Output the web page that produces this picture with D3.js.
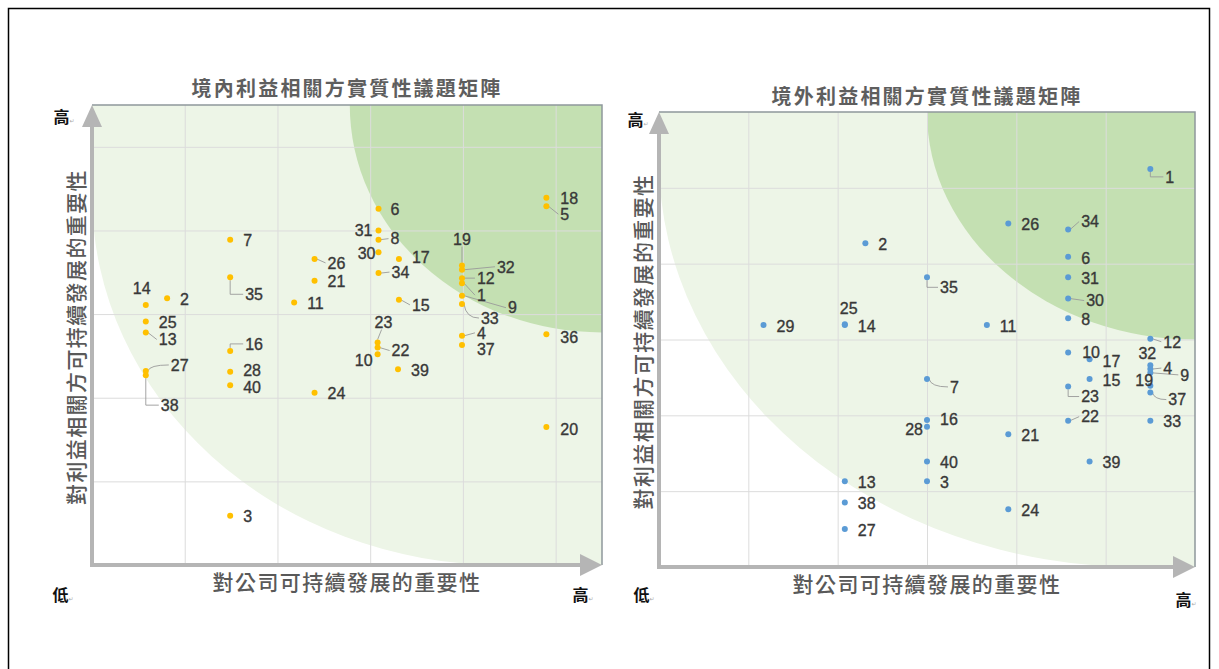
<!DOCTYPE html>
<html><head><meta charset="utf-8">
<script src="https://cdn.jsdelivr.net/npm/d3@7"></script>
<style>body{margin:0;background:#fff}svg{display:block}</style>
</head><body>
<svg id="c" width="1219" height="669"></svg>
<script>
// ---------- DATA ----------
const titleLeft = "境內利益相關方實質性議題矩陣";
const titleRight = "境外利益相關方實質性議題矩陣";
const xAxisTitle = "對公司可持續發展的重要性";
const yAxisTitle = "對利益相關方可持續發展的重要性";
const highLabel = "高", lowLabel = "低";

const leftIds = [1,2,3,4,5,6,7,8,9,10,11,12,13,14,15,16,17,18,19,20,21,22,23,24,25,26,27,28,30,31,32,33,34,35,36,37,38,39,40];
const leftX   = [3.99,0.81,1.49,3.99,4.90,3.09,1.49,3.09,3.99,3.08,2.18,3.99,0.58,0.58,3.31,1.49,3.31,4.90,3.99,4.90,2.40,3.08,3.08,2.40,0.58,2.40,0.58,1.49,3.09,3.09,3.99,3.99,3.09,1.49,4.90,3.99,0.58,3.30,1.49];
const leftY   = [3.37,3.19,0.59,2.74,4.29,4.26,3.89,3.89,3.22,2.52,3.14,3.43,2.78,3.11,3.17,2.56,3.66,4.39,3.58,1.65,3.40,2.60,2.66,2.06,2.91,3.66,2.32,2.31,3.74,4.00,3.53,3.12,3.49,3.44,2.76,2.63,2.27,2.34,2.15];

const rightIds = [1,2,3,4,6,7,8,9,10,11,12,13,14,15,16,17,19,21,22,23,24,25,26,27,28,29,30,31,32,33,34,35,37,38,39,40];
const rightX   = [5.50,2.31,3.00,5.50,4.58,3.00,4.58,5.50,4.58,3.67,5.50,2.08,2.08,4.82,3.00,4.82,5.50,3.91,4.58,4.58,3.91,2.08,3.91,2.08,3.00,1.17,4.58,4.58,5.50,5.50,4.58,3.00,5.50,2.08,4.82,3.00];
const rightY   = [5.25,4.27,1.13,2.61,4.09,2.48,3.28,2.56,2.83,3.19,3.01,1.13,3.19,2.48,1.94,2.74,2.39,1.75,1.93,2.38,0.76,3.20,4.53,0.50,1.85,3.19,3.54,3.82,2.66,1.93,4.45,3.82,2.30,0.85,1.39,1.39];

const leftGrid = [1,2,3,4,5];
const rightGrid = [1,2,3,4,5];

// ---------- LAYOUT (label placement, not data) ----------
const leftLabelLayout = {
  14:[-13,-17],25:[13,1],13:[13,7,'start','s'],27:[25,-6,'start','c'],38:[15,30,'start','L'],
  35:[15,17,'start','L'],16:[15,-7,'start','L'],26:[13,4,'start','s'],28:[13,-2],40:[13,2],
  31:[-6,0,'end'],8:[12,-1,'start','s'],30:[-3,1,'end'],17:[13,-2],34:[13,-1,'start','s'],15:[13,5,'start','s'],
  5:[14,8,'start','s'],19:[0,-26,'middle','v'],32:[35,-3,'start','s'],12:[15,0,'start','s'],1:[15,12,'start','s'],
  9:[46,12,'start','s'],33:[19,14,'start','c'],4:[15,-3,'start','s'],37:[15,4],36:[14,3],
  23:[-3,-20,'start','v'],22:[14,3,'start','s'],10:[-5,6,'end'],20:[14,2],6:[12,1],18:[14,0]
};
const rightLabelLayout = {
  1:[15,8,'start','L'],35:[13,10,'start','L'],25:[-5,-16],34:[13,-8,'start','s'],30:[18,2,'start','s'],
  12:[13,3,'start','s'],10:[14,0],17:[13,2],32:[-3,-12,'middle'],4:[13,-1,'start','s'],9:[30,2,'start','s'],
  19:[-15,-6],37:[18,7,'start','c'],7:[23,8,'start','c'],23:[13,10,'start','L'],22:[13,-4,'start','s'],
  28:[-4,3,'end'],16:[13,-1]
};

// ---------- DRAW ----------
const svg = d3.select("#c");
svg.append("rect").attr("x",8.5).attr("y",8.5).attr("width",1201).attr("height",720)
  .attr("fill","#fff").attr("stroke","#000").attr("stroke-width",1.5);

const CJK = "'Noto Sans CJK TC','Noto Sans CJK SC',sans-serif";
const NUM = "'Liberation Sans',Arial,sans-serif";

function chart(cfg){
  const {id, x0,x1,y0,y1,max, ids, xs, ys, grid, layout, color, lightC, darkR, title, titleY} = cfg;
  const x = d3.scaleLinear([0,max],[x0,x1]);
  const y = d3.scaleLinear([0,max],[y0,y1]);
  const g = svg.append("g");
  const clipId = "clip"+id;
  g.append("clipPath").attr("id",clipId).append("rect")
    .attr("x",x0).attr("y",y1).attr("width",x1-x0).attr("height",y0-y1);
  const bg = g.append("g").attr("clip-path",`url(#${clipId})`);
  bg.append("rect").attr("x",x0).attr("y",y1).attr("width",x1-x0).attr("height",y0-y1).attr("fill","#fff");
  const rx = x(lightC)-x(0), ry = y(0)-y(lightC);
  const p = `M${x(0)},${y(max)} L${x(0)},${y(lightC)} A${rx},${ry} 0 0 0 ${x(lightC)},${y(0)} L${x(max)},${y(0)} L${x(max)},${y(max)} Z`;
  bg.append("path").attr("d",p).attr("fill","#edf5e7");
  bg.append("ellipse").attr("cx",x(max)).attr("cy",y(max))
    .attr("rx",x(darkR)-x(0)).attr("ry",y(0)-y(darkR)).attr("fill","#c4e0b2");
  const gx = g.append("g").attr("transform",`translate(0,${y0})`)
    .call(d3.axisBottom(x).tickValues(grid).tickSize(-(y0-y1)).tickFormat(""));
  const gy = g.append("g").attr("transform",`translate(${x0},0)`)
    .call(d3.axisLeft(y).tickValues(grid).tickSize(-(x1-x0)).tickFormat(""));
  [gx,gy].forEach(a=>{a.select(".domain").remove();a.selectAll("line").attr("stroke","#dcdcdc").attr("stroke-width",1);});
  g.append("path").attr("d",`M${x0},${y1} L${x1},${y1} L${x1},${y0}`).attr("fill","none")
    .attr("stroke","#8e989c").attr("stroke-width",1.5);
  const ac = "#b5b5b5";
  g.append("line").attr("x1",x0).attr("x2",x0).attr("y1",y0+2).attr("y2",y1+18).attr("stroke",ac).attr("stroke-width",4);
  g.append("path").attr("d",`M${x0},${y1} L${x0-10},${y1+22} L${x0+10},${y1+22} Z`).attr("fill",ac);
  g.append("line").attr("x1",x0-2).attr("x2",x1-18).attr("y1",y0).attr("y2",y0).attr("stroke",ac).attr("stroke-width",4);
  g.append("path").attr("d",`M${x1},${y0} L${x1-22},${y0-11} L${x1-22},${y0+11} Z`).attr("fill",ac);

  const pts = ids.map((d,i)=>({id:d, cx:x(xs[i]), cy:y(ys[i])}));
  const lg = g.append("g");
  pts.forEach(pt=>{
    const L = layout[pt.id] || [13,1];
    const dx=L[0], dy=L[1], anchor=L[2]||'start', lead=L[3];
    const tx = pt.cx+dx, ty = pt.cy+dy;
    if(lead){
      let d;
      if(lead==='s') d=`M${pt.cx+2},${pt.cy} L${tx-2},${ty}`;
      else if(lead==='L') d=`M${pt.cx},${pt.cy+(ty>pt.cy?3:-3)} L${pt.cx},${ty} L${tx-2},${ty}`;
      else if(lead==='v') { const t = anchor==='middle'?tx:tx+7; d=`M${pt.cx},${pt.cy-3} L${t},${ty+7}`; }
      else d=`M${pt.cx+2},${pt.cy} Q${pt.cx+4},${ty} ${tx-2},${ty}`;
      lg.append("path").attr("d",d).attr("fill","none").attr("stroke","#9a9a9a").attr("stroke-width",0.9);
    }
    pt.tx=tx; pt.ty=ty; pt.anchor=anchor;
  });
  g.append("g").selectAll("circle").data(pts).join("circle")
    .attr("cx",d=>d.cx).attr("cy",d=>d.cy).attr("r",3).attr("fill",color);
  g.append("g").selectAll("text").data(pts).join("text")
    .attr("x",d=>d.tx).attr("y",d=>d.ty).attr("dy","0.36em").attr("text-anchor",d=>d.anchor)
    .attr("font-family",NUM).attr("font-size",16).attr("fill","#383838")
    .attr("stroke","#383838").attr("stroke-width",0.35).text(d=>d.id);

  const cxm = (x0+x1)/2;
  g.append("text").attr("x",cxm).attr("y",titleY).attr("text-anchor","middle").attr("dy","0.36em")
    .attr("font-family",CJK).attr("font-size",20).attr("font-weight",700).attr("letter-spacing",2.2)
    .attr("fill","#5e5e5e").text(title);
  g.append("text").attr("x",cxm).attr("y",y0+17).attr("text-anchor","middle").attr("dy","0.36em")
    .attr("font-family",CJK).attr("font-size",21).attr("font-weight",500).attr("letter-spacing",1.4)
    .attr("fill","#595959").text(xAxisTitle);
  g.append("text").attr("transform",`translate(${x0-16},${(y0+y1)/2+2}) rotate(-90)`).attr("text-anchor","middle").attr("dy","0.36em")
    .attr("font-family",CJK).attr("font-size",21).attr("font-weight",500).attr("letter-spacing",1.4)
    .attr("fill","#595959").text(yAxisTitle);
  const mark = (tx,ty,t)=>{
    const el = g.append("text").attr("x",tx).attr("y",ty).attr("dy","0.36em").attr("text-anchor","middle")
      .attr("font-family",CJK).attr("font-size",16).attr("font-weight",700).attr("fill","#111");
    el.append("tspan").text(t);
    el.append("tspan").attr("font-size",6).attr("fill","#aaa").attr("font-weight",400).attr("font-family","DejaVu Sans").text("↵");
  };
  cfg.marks.forEach(m=>mark(m[0],m[1],m[2]));
}

chart({id:"L", x0:92,x1:602,y0:565,y1:105,max:5.5, ids:leftIds, xs:leftX, ys:leftY, grid:leftGrid,
  layout:leftLabelLayout, color:"#ffc000", lightC:4.42, darkR:2.72, title:titleLeft, titleY:89,
  marks:[[64,117,highLabel],[63,595,lowLabel],[583,595,highLabel]]});
chart({id:"R", x0:659,x1:1195,y0:567,y1:112,max:6, ids:rightIds, xs:rightX, ys:rightY, grid:rightGrid,
  layout:rightLabelLayout, color:"#5b9bd5", lightC:5.37, darkR:3.0, title:titleRight, titleY:97,
  marks:[[638,120,highLabel],[644,595,lowLabel],[1186,600,highLabel]]});
</script>
</body></html>
